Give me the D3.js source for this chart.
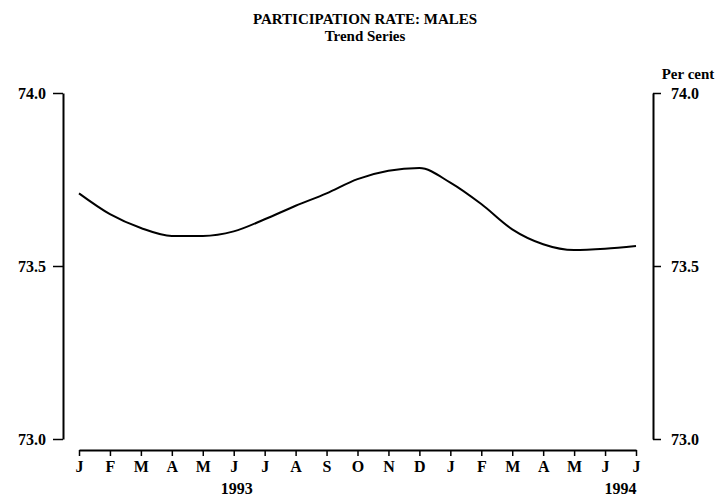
<!DOCTYPE html>
<html>
<head>
<meta charset="utf-8">
<script src="https://cdn.jsdelivr.net/npm/d3@7"></script>
<style>
  body { margin: 0; background: #fff; }
  svg text { font-family: "Liberation Serif", "Times New Roman", serif; font-weight: bold; fill: #000; }
</style>
</head>
<body>
<div id="chart"></div>
<script>
// Month labels along the bottom, Jan 1993 to Jul 1994
var monthLabels = ["J", "F", "M", "A", "M", "J", "J", "A", "S", "O", "N", "D",
                   "J", "F", "M", "A", "M", "J", "J"];
// Trend series, participation rate for males (per cent)
var trendValues = [73.71, 73.65, 73.61, 73.587, 73.587, 73.60, 73.635, 73.674, 73.71, 73.751,
                   73.775, 73.783, 73.741, 73.679, 73.606, 73.563, 73.546, 73.550, 73.558];
var yTicks = [73.0, 73.5, 74.0];
var yearLabels = [{ idx: 5.1, text: "1993" }, { idx: 17.5, text: "1994" }];

var width = 720, height = 502;

var svg = d3.select("#chart")
    .append("svg")
    .attr("width", width)
    .attr("height", height);

// Scales
var xScale = d3.scaleLinear()
    .domain([0, monthLabels.length - 1])
    .range([79, 636]);
var yScale = d3.scaleLinear()
    .domain([73.0, 74.0])
    .range([439, 93]);

// Title
svg.append("text")
    .attr("x", 365).attr("y", 24)
    .attr("text-anchor", "middle")
    .style("font-size", "15px")
    .text("PARTICIPATION RATE: MALES");
svg.append("text")
    .attr("x", 365).attr("y", 41)
    .attr("text-anchor", "middle")
    .style("font-size", "15px")
    .text("Trend Series");

// Left axis
var leftAxis = d3.axisLeft(yScale)
    .tickValues(yTicks)
    .tickFormat(d3.format(".1f"))
    .tickSizeInner(10)
    .tickSizeOuter(0)
    .tickPadding(7);
var leftG = svg.append("g")
    .attr("transform", "translate(63,0)")
    .call(leftAxis);

// Right axis
var rightAxis = d3.axisRight(yScale)
    .tickValues(yTicks)
    .tickFormat(d3.format(".1f"))
    .tickSizeInner(8)
    .tickSizeOuter(0)
    .tickPadding(10);
var rightG = svg.append("g")
    .attr("transform", "translate(653,0)")
    .call(rightAxis);

[leftG, rightG].forEach(function (g) {
    g.select(".domain").attr("stroke", "#000").attr("stroke-width", 2);
    g.selectAll(".tick line").attr("stroke", "#000").attr("stroke-width", 1.5);
    g.selectAll(".tick text")
        .style("font-size", "16px")
        .style("font-family", "'Liberation Serif', serif")
        .attr("fill", "#000");
});

svg.append("text")
    .attr("x", 688).attr("y", 79)
    .attr("text-anchor", "middle")
    .style("font-size", "15px")
    .text("Per cent");

// Bottom axis with month letters
var bottomAxis = d3.axisBottom(xScale)
    .tickValues(d3.range(monthLabels.length))
    .tickFormat(function (d) { return monthLabels[d]; })
    .tickSizeInner(6)
    .tickSizeOuter(0)
    .tickPadding(5);
var bottomG = svg.append("g")
    .attr("transform", "translate(0,450)")
    .call(bottomAxis);
bottomG.select(".domain").attr("stroke", "#000").attr("stroke-width", 2);
bottomG.selectAll(".tick line").attr("stroke", "#000").attr("stroke-width", 1.5);
bottomG.selectAll(".tick text")
    .style("font-size", "16px")
    .style("font-family", "'Liberation Serif', serif")
    .attr("fill", "#000");

// Years under the months
svg.selectAll("text.year")
    .data(yearLabels)
    .enter().append("text")
    .attr("class", "year")
    .attr("x", function (d) { return xScale(d.idx); })
    .attr("y", 494)
    .attr("text-anchor", "middle")
    .style("font-size", "16px")
    .text(function (d) { return d.text; });

// The trend line
var line = d3.line()
    .x(function (d, i) { return xScale(i); })
    .y(function (d) { return yScale(d); })
    .curve(d3.curveMonotoneX);

svg.append("path")
    .datum(trendValues)
    .attr("fill", "none")
    .attr("stroke", "#000")
    .attr("stroke-width", 2)
    .attr("d", line);
</script>
</body>
</html>
